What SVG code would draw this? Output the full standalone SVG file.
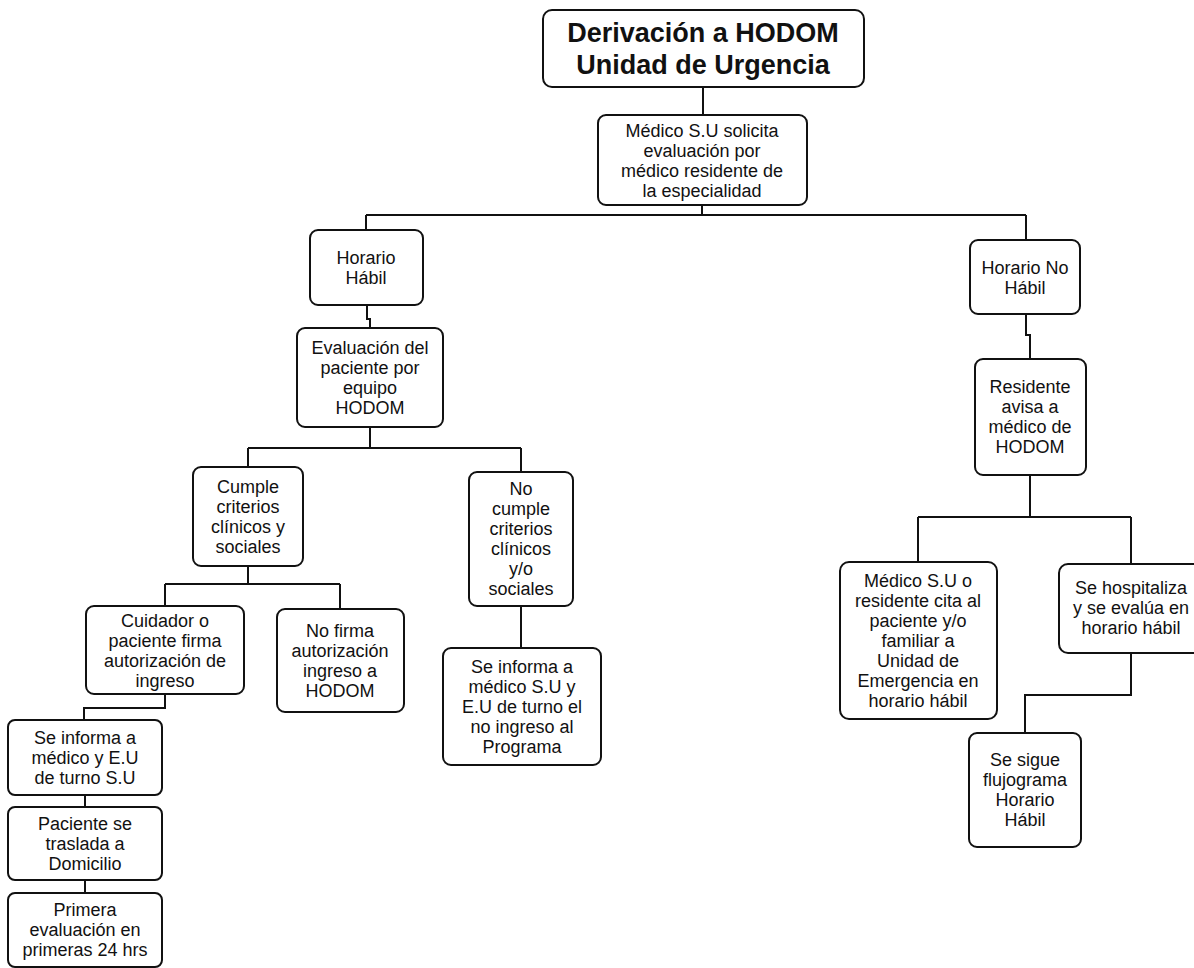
<svg xmlns="http://www.w3.org/2000/svg" width="1194" height="968" viewBox="0 0 1194 968">
<style>
.box{fill:#fff;stroke:#111;stroke-width:2}
.t{font-family:"Liberation Sans",Arial,sans-serif;font-size:18px;fill:#111;text-anchor:middle}
.title{font-family:"Liberation Sans",Arial,sans-serif;font-size:27px;font-weight:bold;fill:#111;text-anchor:middle}
.c{fill:none;stroke:#111;stroke-width:2}
</style>
<rect width="1194" height="968" fill="#fff"/>
<g id="connectors">
<path class="c" d="M703 87V115"/>
<path class="c" d="M702 205V215"/>
<path class="c" d="M366 215H1026"/>
<path class="c" d="M366 215V230"/>
<path class="c" d="M1026 215V240"/>
<path class="c" d="M367 305V319H370V328"/>
<path class="c" d="M370 427V448"/>
<path class="c" d="M248 448H521"/>
<path class="c" d="M248 448V467"/>
<path class="c" d="M521 448V472"/>
<path class="c" d="M248 566V584"/>
<path class="c" d="M165 584H340"/>
<path class="c" d="M165 584V606"/>
<path class="c" d="M340 584V609"/>
<path class="c" d="M165 694V708H84V720"/>
<path class="c" d="M85 795V807"/>
<path class="c" d="M85 880V893"/>
<path class="c" d="M521 606V648"/>
<path class="c" d="M1026 314V335H1030V359"/>
<path class="c" d="M1030 475V517"/>
<path class="c" d="M918 517H1131"/>
<path class="c" d="M918 517V562"/>
<path class="c" d="M1131 517V564"/>
<path class="c" d="M1131 653V695H1025V733"/>
</g>
<g id="title">
<rect class="box" x="543" y="10" width="321" height="77" rx="9"/>
<text class="title" x="703" y="42">Derivación a HODOM</text>
<text class="title" x="703" y="74">Unidad de Urgencia</text>
</g>
<g id="n1">
<rect class="box" x="598" y="115" width="209" height="90" rx="8"/>
<text class="t" x="702" y="137">Médico S.U solicita</text>
<text class="t" x="702" y="157">evaluación por</text>
<text class="t" x="702" y="177">médico residente de</text>
<text class="t" x="702" y="197">la especialidad</text>
</g>
<g id="n2">
<rect class="box" x="310" y="230" width="113" height="75" rx="8"/>
<text class="t" x="366" y="264">Horario</text>
<text class="t" x="366" y="284">Hábil</text>
</g>
<g id="n3">
<rect class="box" x="970" y="240" width="110" height="74" rx="8"/>
<text class="t" x="1025" y="274">Horario No</text>
<text class="t" x="1025" y="294">Hábil</text>
</g>
<g id="n4">
<rect class="box" x="297" y="328" width="146" height="99" rx="8"/>
<text class="t" x="370" y="354">Evaluación del</text>
<text class="t" x="370" y="374">paciente por</text>
<text class="t" x="370" y="394">equipo</text>
<text class="t" x="370" y="414">HODOM</text>
</g>
<g id="n5">
<rect class="box" x="975" y="359" width="111" height="116" rx="8"/>
<text class="t" x="1030" y="393">Residente</text>
<text class="t" x="1030" y="413">avisa a</text>
<text class="t" x="1030" y="433">médico de</text>
<text class="t" x="1030" y="453">HODOM</text>
</g>
<g id="n6">
<rect class="box" x="193" y="467" width="110" height="99" rx="8"/>
<text class="t" x="248" y="493">Cumple</text>
<text class="t" x="248" y="513">criterios</text>
<text class="t" x="248" y="533">clínicos y</text>
<text class="t" x="248" y="553">sociales</text>
</g>
<g id="n7">
<rect class="box" x="469" y="472" width="104" height="134" rx="8"/>
<text class="t" x="521" y="495">No</text>
<text class="t" x="521" y="515">cumple</text>
<text class="t" x="521" y="535">criterios</text>
<text class="t" x="521" y="555">clínicos</text>
<text class="t" x="521" y="575">y/o</text>
<text class="t" x="521" y="595">sociales</text>
</g>
<g id="n8">
<rect class="box" x="86" y="606" width="158" height="88" rx="8"/>
<text class="t" x="165" y="627">Cuidador o</text>
<text class="t" x="165" y="647">paciente firma</text>
<text class="t" x="165" y="667">autorización de</text>
<text class="t" x="165" y="687">ingreso</text>
</g>
<g id="n9">
<rect class="box" x="277" y="609" width="127" height="103" rx="8"/>
<text class="t" x="340" y="637">No firma</text>
<text class="t" x="340" y="657">autorización</text>
<text class="t" x="340" y="677">ingreso a</text>
<text class="t" x="340" y="697">HODOM</text>
</g>
<g id="n10">
<rect class="box" x="443" y="648" width="158" height="117" rx="8"/>
<text class="t" x="522" y="673">Se informa a</text>
<text class="t" x="522" y="693">médico S.U y</text>
<text class="t" x="522" y="713">E.U de turno el</text>
<text class="t" x="522" y="733">no ingreso al</text>
<text class="t" x="522" y="753">Programa</text>
</g>
<g id="n11">
<rect class="box" x="840" y="562" width="157" height="157" rx="9"/>
<text class="t" x="918" y="587">Médico S.U o</text>
<text class="t" x="918" y="607">residente cita al</text>
<text class="t" x="918" y="627">paciente y/o</text>
<text class="t" x="918" y="647">familiar a</text>
<text class="t" x="918" y="667">Unidad de</text>
<text class="t" x="918" y="687">Emergencia en</text>
<text class="t" x="918" y="707">horario hábil</text>
</g>
<g id="n12">
<rect class="box" x="1059" y="564" width="150" height="89" rx="9"/>
<text class="t" x="1131" y="594">Se hospitaliza</text>
<text class="t" x="1131" y="614">y se evalúa en</text>
<text class="t" x="1131" y="634">horario hábil</text>
</g>
<g id="n13">
<rect class="box" x="969" y="733" width="112" height="114" rx="8"/>
<text class="t" x="1025" y="766">Se sigue</text>
<text class="t" x="1025" y="786">flujograma</text>
<text class="t" x="1025" y="806">Horario</text>
<text class="t" x="1025" y="826">Hábil</text>
</g>
<g id="n14">
<rect class="box" x="8" y="720" width="154" height="75" rx="7"/>
<text class="t" x="85" y="744">Se informa a</text>
<text class="t" x="85" y="764">médico y E.U</text>
<text class="t" x="85" y="784">de turno S.U</text>
</g>
<g id="n15">
<rect class="box" x="8" y="807" width="154" height="73" rx="7"/>
<text class="t" x="85" y="830">Paciente se</text>
<text class="t" x="85" y="850">traslada a</text>
<text class="t" x="85" y="870">Domicilio</text>
</g>
<g id="n16">
<rect class="box" x="8" y="893" width="154" height="74" rx="7"/>
<text class="t" x="85" y="916">Primera</text>
<text class="t" x="85" y="936">evaluación en</text>
<text class="t" x="85" y="956">primeras 24 hrs</text>
</g>
</svg>
